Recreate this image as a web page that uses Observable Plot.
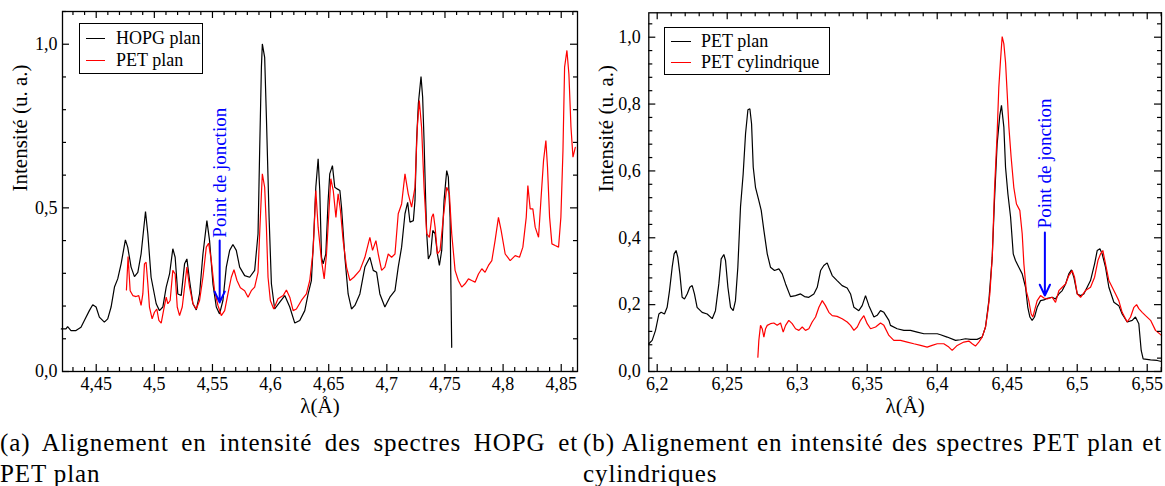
<!DOCTYPE html>
<html>
<head>
<meta charset="utf-8">
<script src="https://cdn.jsdelivr.net/npm/d3@7"></script>
<script src="https://cdn.jsdelivr.net/npm/@observablehq/plot@0.6"></script>
<style>
  html, body { margin: 0; padding: 0; background: #fff; }
  body { font-family: "Liberation Serif", "DejaVu Serif", "Times New Roman", serif; color: #000; }
  #wrap { position: relative; width: 1165px; height: 486px; overflow: hidden; }
  #charts { display: flex; height: 425px; }
  #charts svg { display: block; }
  .legend { position: absolute; box-sizing: border-box; border: 1.2px solid #000; background: #fff; font-size: 18px; }
  .legend .sw { position: absolute; height: 0; border-top: 1.3px solid #000; }
  .legend .lb { position: absolute; height: 22px; line-height: 22px; white-space: nowrap; }
  #caption { display: flex; margin-top: 2px; font-size: 25px; line-height: 31px; letter-spacing: 0.9px; }
  .cap .l1 { text-align: justify; text-align-last: justify; white-space: nowrap; }
</style>
</head>
<body>
<div id="wrap">
  <div id="charts"><div id="pa"></div><div id="pb"></div></div>
  <div id="caption">
    <div class="cap" id="capA" style="width:578px"></div>
    <div class="cap" id="capB" style="width:579px;margin-left:5px"></div>
  </div>
</div>
<script>
// ---------------- data : panel (a) ----------------
const hopgLambda = [4.4200,4.4240,4.4254,4.4283,4.4326,4.4369,4.4398,4.4441,4.4470,4.4499,4.4527,4.4570,4.4599,4.4628,4.4657,4.4685,4.4714,4.4751,4.4771,4.4800,4.4829,4.4858,4.4886,4.4924,4.4944,4.4972,4.5016,4.5044,4.5073,4.5102,4.5131,4.5159,4.5179,4.5202,4.5231,4.5260,4.5280,4.5303,4.5332,4.5361,4.5389,4.5418,4.5452,4.5475,4.5504,4.5533,4.5561,4.5590,4.5619,4.5648,4.5676,4.5705,4.5734,4.5777,4.5820,4.5863,4.5892,4.5906,4.5921,4.5929,4.5949,4.5964,4.5987,4.6007,4.6035,4.6079,4.6122,4.6165,4.6208,4.6251,4.6294,4.6323,4.6351,4.6372,4.6389,4.6409,4.6423,4.6438,4.6452,4.6475,4.6495,4.6509,4.6532,4.6552,4.6573,4.6596,4.6610,4.6639,4.6667,4.6696,4.6725,4.6768,4.6811,4.6854,4.6883,4.6912,4.6940,4.6983,4.7026,4.7070,4.7098,4.7127,4.7156,4.7179,4.7199,4.7228,4.7242,4.7256,4.7271,4.7294,4.7308,4.7320,4.7334,4.7343,4.7357,4.7377,4.7395,4.7415,4.7435,4.7452,4.7472,4.7492,4.7515,4.7529,4.7544,4.7552,4.7558];
const hopgIntensity = [0.130,0.130,0.137,0.125,0.125,0.135,0.156,0.186,0.204,0.197,0.166,0.151,0.161,0.197,0.258,0.283,0.329,0.402,0.380,0.319,0.290,0.303,0.359,0.489,0.421,0.288,0.207,0.186,0.197,0.258,0.298,0.375,0.349,0.237,0.232,0.329,0.344,0.278,0.207,0.188,0.237,0.359,0.461,0.400,0.268,0.197,0.176,0.217,0.319,0.370,0.388,0.370,0.319,0.293,0.288,0.309,0.421,0.675,0.930,1.001,0.960,0.777,0.471,0.268,0.191,0.212,0.232,0.197,0.148,0.156,0.186,0.237,0.278,0.421,0.563,0.650,0.553,0.349,0.329,0.359,0.522,0.604,0.629,0.563,0.558,0.553,0.502,0.349,0.237,0.191,0.202,0.237,0.319,0.349,0.309,0.303,0.237,0.197,0.227,0.247,0.319,0.380,0.482,0.517,0.456,0.461,0.522,0.706,0.818,0.901,0.838,0.706,0.522,0.421,0.344,0.359,0.431,0.421,0.359,0.324,0.370,0.522,0.614,0.594,0.471,0.237,0.074];

const petPlanLambdaA = [4.4760,4.4774,4.4792,4.4815,4.4843,4.4866,4.4886,4.4901,4.4915,4.4929,4.4944,4.4958,4.4981,4.5001,4.5021,4.5039,4.5059,4.5079,4.5102,4.5116,4.5136,4.5159,4.5179,4.5197,4.5217,4.5240,4.5260,4.5280,4.5303,4.5332,4.5361,4.5389,4.5418,4.5447,4.5467,4.5490,4.5518,4.5547,4.5576,4.5605,4.5633,4.5662,4.5685,4.5711,4.5740,4.5777,4.5806,4.5834,4.5863,4.5892,4.5906,4.5921,4.5929,4.5949,4.5964,4.5978,4.5998,4.6027,4.6064,4.6108,4.6136,4.6165,4.6194,4.6222,4.6265,4.6308,4.6337,4.6366,4.6389,4.6409,4.6438,4.6461,4.6481,4.6504,4.6518,4.6539,4.6562,4.6581,4.6601,4.6624,4.6653,4.6682,4.6716,4.6768,4.6811,4.6854,4.6877,4.6906,4.6926,4.6955,4.6983,4.7012,4.7041,4.7070,4.7098,4.7127,4.7156,4.7184,4.7213,4.7242,4.7262,4.7279,4.7299,4.7320,4.7343,4.7366,4.7386,4.7400,4.7415,4.7435,4.7458,4.7486,4.7515,4.7538,4.7558,4.7587,4.7615,4.7644,4.7673,4.7702,4.7730,4.7759,4.7788,4.7817,4.7845,4.7874,4.7903,4.7931,4.7960,4.7983,4.8018,4.8061,4.8104,4.8141,4.8170,4.8199,4.8213,4.8233,4.8256,4.8276,4.8305,4.8325,4.8348,4.8368,4.8382,4.8400,4.8420,4.8448,4.8477,4.8497,4.8515,4.8529,4.8549,4.8566,4.8584,4.8601,4.8621];
const petPlanIntensityA = [0.249,0.351,0.247,0.232,0.229,0.232,0.202,0.237,0.329,0.334,0.268,0.197,0.161,0.181,0.191,0.156,0.148,0.186,0.227,0.207,0.217,0.309,0.298,0.197,0.171,0.197,0.258,0.319,0.258,0.207,0.191,0.217,0.288,0.380,0.392,0.339,0.247,0.202,0.171,0.186,0.237,0.288,0.311,0.278,0.256,0.247,0.227,0.247,0.258,0.303,0.421,0.543,0.604,0.563,0.441,0.288,0.217,0.191,0.222,0.232,0.249,0.227,0.186,0.191,0.217,0.237,0.278,0.370,0.553,0.441,0.339,0.283,0.359,0.502,0.589,0.553,0.471,0.543,0.492,0.400,0.319,0.278,0.288,0.309,0.349,0.410,0.370,0.400,0.359,0.309,0.319,0.359,0.349,0.359,0.482,0.512,0.604,0.543,0.502,0.563,0.746,0.828,0.746,0.563,0.421,0.410,0.471,0.482,0.441,0.359,0.370,0.471,0.563,0.543,0.421,0.309,0.278,0.258,0.268,0.283,0.278,0.273,0.298,0.314,0.303,0.324,0.339,0.400,0.471,0.431,0.359,0.339,0.354,0.349,0.380,0.471,0.568,0.497,0.497,0.441,0.410,0.522,0.645,0.706,0.624,0.471,0.390,0.385,0.380,0.471,0.675,0.930,0.981,0.909,0.746,0.655,0.685];

// ---------------- data : panel (b) ----------------
const petPlanLambdaB = [6.1940,6.1964,6.1988,6.2012,6.2028,6.2052,6.2071,6.2088,6.2107,6.2121,6.2135,6.2147,6.2162,6.2178,6.2195,6.2214,6.2233,6.2250,6.2266,6.2285,6.2321,6.2357,6.2393,6.2416,6.2440,6.2457,6.2476,6.2488,6.2505,6.2524,6.2543,6.2559,6.2576,6.2595,6.2614,6.2631,6.2648,6.2662,6.2674,6.2686,6.2702,6.2726,6.2743,6.2762,6.2786,6.2809,6.2838,6.2869,6.2893,6.2917,6.2952,6.2988,6.3024,6.3052,6.3083,6.3119,6.3143,6.3167,6.3190,6.3214,6.3226,6.3250,6.3285,6.3321,6.3357,6.3381,6.3405,6.3440,6.3464,6.3488,6.3512,6.3548,6.3571,6.3595,6.3619,6.3655,
  6.3666,6.3714,6.3762,6.3809,6.3857,6.3905,6.3952,6.4000,6.4024,6.4071,6.4131,6.4166,6.4202,6.4238,6.4285,6.4321,6.4345,6.4369,6.4393,6.4409,6.4428,6.4447,6.4459,6.4476,6.4488,6.4505,6.4524,6.4543,6.4559,6.4583,6.4607,6.4631,6.4647,6.4662,6.4678,6.4695,6.4714,6.4738,6.4762,6.4786,6.4821,6.4845,6.4869,6.4893,6.4917,6.4940,6.4959,6.4976,6.5000,6.5024,6.5047,6.5071,6.5095,6.5124,6.5143,6.5162,6.5178,6.5202,6.5226,6.5262,6.5297,6.5321,6.5357,6.5393,6.5416,6.5440,6.5457,6.5471,6.5524,6.5571,6.5602];
const petPlanIntensityB = [0.083,0.093,0.123,0.172,0.177,0.172,0.192,0.242,0.312,0.352,0.362,0.342,0.292,0.222,0.217,0.232,0.252,0.257,0.232,0.192,0.177,0.172,0.158,0.182,0.262,0.337,0.350,0.332,0.252,0.192,0.182,0.212,0.312,0.492,0.591,0.711,0.783,0.786,0.741,0.611,0.551,0.511,0.482,0.422,0.352,0.312,0.302,0.307,0.292,0.262,0.224,0.227,0.232,0.224,0.222,0.232,0.252,0.302,0.317,0.325,0.312,0.287,0.272,0.257,0.250,0.232,0.192,0.182,0.197,0.227,0.197,0.163,0.168,0.182,0.177,0.153,
  0.138,0.128,0.123,0.123,0.118,0.113,0.113,0.113,0.110,0.103,0.093,0.095,0.098,0.096,0.096,0.103,0.133,0.212,0.342,0.511,0.681,0.766,0.796,0.731,0.611,0.531,0.462,0.352,0.332,0.312,0.292,0.252,0.192,0.163,0.153,0.163,0.192,0.212,0.214,0.219,0.222,0.217,0.232,0.242,0.262,0.292,0.304,0.282,0.232,0.227,0.232,0.252,0.272,0.322,0.362,0.367,0.352,0.312,0.252,0.207,0.197,0.172,0.148,0.153,0.163,0.143,0.063,0.038,0.035,0.033,0.030];

const petCylLambda = [6.2719,6.2726,6.2738,6.2750,6.2762,6.2774,6.2786,6.2809,6.2833,6.2857,6.2881,6.2900,6.2917,6.2940,6.2964,6.2988,6.3012,6.3036,6.3059,6.3083,6.3107,6.3131,6.3155,6.3179,6.3202,6.3226,6.3250,6.3285,6.3321,6.3357,6.3381,6.3405,6.3429,6.3452,6.3476,6.3500,6.3524,6.3560,6.3595,6.3619,6.3655,
  6.3690,6.3738,6.3786,6.3833,6.3881,6.3928,6.3964,6.4000,6.4047,6.4083,6.4107,6.4143,6.4190,6.4226,6.4250,6.4273,6.4297,6.4321,6.4345,6.4362,6.4376,6.4393,6.4409,6.4428,6.4440,6.4452,6.4464,6.4476,6.4488,6.4500,6.4512,6.4528,6.4547,6.4566,6.4590,6.4607,6.4619,6.4636,6.4654,6.4671,6.4683,6.4695,6.4714,6.4738,6.4762,6.4786,6.4821,6.4845,6.4869,6.4893,6.4917,6.4940,6.4964,6.4981,6.5000,6.5024,6.5059,6.5095,6.5124,6.5148,6.5167,6.5183,6.5202,6.5226,6.5250,6.5274,6.5297,6.5321,6.5357,6.5381,6.5405,6.5424,6.5440,6.5464,6.5488,6.5524,6.5559,6.5602];
const petCylIntensity = [0.043,0.093,0.138,0.128,0.103,0.128,0.138,0.143,0.145,0.138,0.145,0.118,0.138,0.153,0.143,0.128,0.123,0.133,0.123,0.128,0.148,0.163,0.192,0.212,0.197,0.177,0.167,0.165,0.158,0.148,0.138,0.123,0.133,0.153,0.167,0.143,0.128,0.133,0.145,0.138,0.108,
  0.093,0.093,0.088,0.083,0.078,0.073,0.078,0.083,0.083,0.073,0.063,0.078,0.088,0.091,0.083,0.076,0.088,0.103,0.133,0.182,0.232,0.342,0.541,0.711,0.850,0.930,1.002,0.980,0.925,0.831,0.731,0.641,0.551,0.501,0.482,0.412,0.322,0.242,0.212,0.172,0.163,0.182,0.212,0.227,0.220,0.217,0.222,0.207,0.242,0.252,0.262,0.287,0.302,0.282,0.232,0.222,0.242,0.252,0.282,0.332,0.352,0.362,0.322,0.272,0.252,0.232,0.212,0.177,0.148,0.163,0.192,0.200,0.188,0.177,0.167,0.153,0.123,0.108];

// ---------------- axes, labels, annotations ----------------
const xDomainA = [4.421, 4.864];
const yDomainA = [0, 1.1];
const xTicksA = [4.45, 4.5, 4.55, 4.6, 4.65, 4.7, 4.75, 4.8, 4.85];
const yTicksA = [0, 0.5, 1.0];
const xMinorStepA = 0.01, yMinorStepA = 0.1;

const xDomainB = [6.194, 6.5602];
const yDomainB = [0, 1.073];
const xTicksB = [6.2, 6.25, 6.3, 6.35, 6.4, 6.45, 6.5, 6.55];
const yTicksB = [0, 0.2, 0.4, 0.6, 0.8, 1.0];
const xMinorStepB = 0.01, yMinorStepB = 0.04;

const xLabel = "λ(Å)";
const yLabel = "Intensité (u. a.)";
const legendNamesA = ["HOPG plan", "PET plan"];
const legendNamesB = ["PET plan", "PET cylindrique"];
const noteLabel = "Point de jonction";
const noteA = [{x: 4.5562, yText: 0.409, yFrom: 0.400, yTo: 0.211}];
const noteB = [{x: 6.4769, yText: 0.428, yFrom: 0.416, yTo: 0.227}];
const captionA = ["(a) Alignement en intensité des spectres HOPG et", "PET plan"];
const captionB = ["(b) Alignement en intensité des spectres PET plan et", "cylindriques"];

const BLACK = "#000000", RED = "#ff0000", BLUE = "#0000ff";
const SERIF = '"Liberation Serif", "DejaVu Serif", "Times New Roman", serif';

const toRows = (xs, ys) => d3.zip(xs, ys).map(([x, y]) => ({x, y}));
const fmtX = v => String(+(+v).toFixed(2)).replace(".", ",");
const fmtY = v => (+v).toFixed(1).replace(".", ",");

function minors(domain, step, majors) {
  const out = [];
  const i0 = Math.ceil(domain[0] / step - 1e-6), i1 = Math.floor(domain[1] / step + 1e-6);
  for (let i = i0; i <= i1; i++) {
    const v = +(i * step).toFixed(5);
    if (majors.some(m => Math.abs(m - v) < step / 10)) continue;
    out.push(v);
  }
  return out;
}

function panel(cfg) {
  const {width, height, mL, mR, mT, mB, xDomain, yDomain, xTicks, yTicks, xStep, yStep, series, note, yTickPad} = cfg;
  const kx = (xDomain[1] - xDomain[0]) / (width - mL - mR);
  const ky = (yDomain[1] - yDomain[0]) / (height - mT - mB);
  const MAJ = 7, MIN = 4;
  const xt = [...xTicks.map(v => ({v, l: MAJ})), ...minors(xDomain, xStep, xTicks).map(v => ({v, l: MIN}))]
    .filter(d => d.v >= xDomain[0] && d.v <= xDomain[1]);
  const yt = [...yTicks.map(v => ({v, l: MAJ})), ...minors(yDomain, yStep, yTicks).map(v => ({v, l: MIN}))]
    .filter(d => d.v >= yDomain[0] && d.v <= yDomain[1]);
  const tickStyle = {stroke: BLACK, strokeWidth: 1.2};
  const marks = [];
  for (const s of series) {
    marks.push(Plot.line(s.rows, {x: "x", y: "y", stroke: s.color, strokeWidth: 1.2, strokeLinejoin: "miter"}));
  }
  marks.push(
    Plot.ruleX(xt, {x: "v", y1: () => yDomain[0], y2: d => yDomain[0] + d.l * ky, ...tickStyle}),
    Plot.ruleX(xt, {x: "v", y1: () => yDomain[1], y2: d => yDomain[1] - d.l * ky, ...tickStyle}),
    Plot.ruleY(yt, {y: "v", x1: () => xDomain[0], x2: d => xDomain[0] + d.l * kx, ...tickStyle}),
    Plot.ruleY(yt, {y: "v", x1: () => xDomain[1], x2: d => xDomain[1] - d.l * kx, ...tickStyle}),
    Plot.frame({stroke: BLACK, strokeWidth: 1.3}),
    Plot.arrow(note, {x1: "x", y1: "yFrom", x2: "x", y2: "yTo", stroke: BLUE, strokeWidth: 2, headLength: 9, headAngle: 50}),
    Plot.text(note, {x: "x", y: "yText", text: () => noteLabel, rotate: -90, textAnchor: "start", fill: BLUE, fontSize: 19, fontFamily: SERIF}),
    Plot.text([xLabel], {frameAnchor: "bottom", dy: 41, text: d => d, fontSize: 21, fill: BLACK, fontFamily: SERIF}),
    Plot.text([yLabel], {frameAnchor: "left", dx: cfg.yLabelDx, rotate: -90, text: d => d, fontSize: 21, fill: BLACK, fontFamily: SERIF})
  );
  return Plot.plot({
    width, height,
    marginLeft: mL, marginRight: mR, marginTop: mT, marginBottom: mB,
    style: {fontFamily: SERIF, fontSize: "18px", color: "#000", background: "transparent", overflow: "visible"},
    x: {domain: xDomain, ticks: xTicks, tickFormat: fmtX, tickSize: 0, tickPadding: 6, label: null},
    y: {domain: yDomain, ticks: yTicks, tickFormat: fmtY, tickSize: 0, tickPadding: yTickPad, label: null},
    marks
  });
}

const chartA = panel({
  width: 583, height: 425, mL: 62, mR: 6, mT: 11, mB: 54,
  xDomain: xDomainA, yDomain: yDomainA, xTicks: xTicksA, yTicks: yTicksA,
  xStep: xMinorStepA, yStep: yMinorStepA, yTickPad: 5, yLabelDx: -42,
  series: [
    {rows: toRows(hopgLambda, hopgIntensity), color: BLACK},
    {rows: toRows(petPlanLambdaA, petPlanIntensityA), color: RED}
  ],
  note: noteA
});
const chartB = panel({
  width: 582, height: 425, mL: 65.3, mR: 4, mT: 12.3, mB: 54,
  xDomain: xDomainB, yDomain: yDomainB, xTicks: xTicksB, yTicks: yTicksB,
  xStep: xMinorStepB, yStep: yMinorStepB, yTickPad: 8, yLabelDx: -43,
  series: [
    {rows: toRows(petPlanLambdaB, petPlanIntensityB), color: BLACK},
    {rows: toRows(petCylLambda, petCylIntensity), color: RED}
  ],
  note: noteB
});
document.getElementById("pa").appendChild(chartA);
document.getElementById("pb").appendChild(chartB);

// ---------------- legends (HTML overlay) ----------------
function legend(names, colors, box) {
  const div = document.createElement("div");
  div.className = "legend";
  Object.assign(div.style, {left: box.left + "px", top: box.top + "px", width: box.width + "px", height: box.height + "px"});
  names.forEach((n, i) => {
    const sw = document.createElement("div");
    sw.className = "sw";
    Object.assign(sw.style, {left: box.swLeft + "px", width: box.swWidth + "px", top: box.rows[i] + "px", borderTopColor: colors[i]});
    const lb = document.createElement("div");
    lb.className = "lb";
    lb.textContent = n;
    Object.assign(lb.style, {left: box.textLeft + "px", top: (box.rows[i] - 11) + "px"});
    div.appendChild(sw);
    div.appendChild(lb);
  });
  document.getElementById("wrap").appendChild(div);
}
legend(legendNamesA, [BLACK, RED], {left: 79, top: 23, width: 124, height: 51, swLeft: 6, swWidth: 19, textLeft: 36, rows: [14, 36]});
legend(legendNamesB, [BLACK, RED], {left: 664, top: 27, width: 166, height: 48, swLeft: 6, swWidth: 20, textLeft: 36, rows: [13, 34]});

// ---------------- captions ----------------
function caption(id, lines) {
  const el = document.getElementById(id);
  lines.forEach((t, i) => {
    const d = document.createElement("div");
    if (i === 0) d.className = "l1";
    d.textContent = t;
    el.appendChild(d);
  });
}
caption("capA", captionA);
caption("capB", captionB);
</script>
</body>
</html>
